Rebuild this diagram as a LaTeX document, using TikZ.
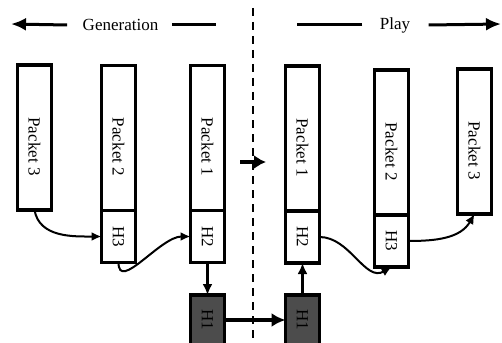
\documentclass[tikz,border=0pt]{standalone}
\usepackage{fontspec}
\setmainfont{Liberation Serif}
\usetikzlibrary{arrows.meta,positioning}

\tikzset{
    pkt/.style={draw,line width=3.5pt,outer sep=0pt,inner sep=0pt,minimum width=34pt,minimum height=145pt},
    hdr/.style={draw,line width=3.5pt,outer sep=0pt,inner sep=0pt,minimum width=34pt,minimum height=52pt},
    darkbox/.style={draw,line width=3.5pt,outer sep=0pt,inner sep=0pt,fill=black!70,minimum width=34pt,minimum height=50pt},
    lbl/.style={rotate=-90,font=\fontsize{17}{17}\selectfont},
    plbl/.style={lbl,xshift=9pt},
    hop/.style={line width=2pt,-{Latex[length=10pt,width=9pt]}},
    link/.style={line width=2.5pt,-{Latex[length=11pt,width=10pt]}},
    biglink/.style={line width=4pt,-{Latex[length=14pt,width=14pt]}},
}

\begin{document}
\begin{tikzpicture}[x=1pt,y=-1pt]
    \useasboundingbox (0,0) rectangle (502,342);
    % titles
    \node[font=\fontsize{17}{17}\selectfont] (gen) at (120.5,25) {Generation};
    \node[font=\fontsize{17}{17}\selectfont] (play) at (395,25) {Play};
    \coordinate (genend) at (11,24);
    \coordinate (playend) at (501,24);
    \draw[line width=3pt,-{Latex[length=15pt,width=13pt]}] ([xshift=-12pt]gen.west) -- (genend);
    \draw[line width=3pt] ([xshift=10pt]gen.east) -- ++(44,0);
    \draw[line width=3pt] ([xshift=-14pt]play.west) -- ++(-65,0);
    \draw[line width=3pt,-{Latex[length=15pt,width=13pt]}] ([xshift=15pt]play.east) -- (playend);
    % boundary
    \draw[line width=2.5pt,dash pattern=on 8pt off 6pt] (253,8) -- (253,342);
    \coordinate (crossa) at (240,162);
    \coordinate (crossb) at (266,162);
    \draw[line width=4.5pt,-{Latex[length=12pt,width=14pt]}] (crossa) -- (crossb);
    % generation side
    \node[pkt,label={[plbl]center:Packet 3}] (gp3) at (34.5,137.5) {};
    \node[pkt,label={[plbl]center:Packet 2}] (gp2) at (118.5,138) {};
    \node[hdr,below=0pt of gp2,label={[lbl]center:H3}] (gh3) {};
    \node[pkt,label={[plbl]center:Packet 1}] (gp1) at (207.5,138) {};
    \node[hdr,below=0pt of gp1,label={[lbl]center:H2}] (gh2) {};
    \node[darkbox,label={[lbl]center:H1}] (gx) at (207.5,320) {};
    % play side
    \node[pkt,label={[plbl]center:Packet 1}] (pp1) at (302.5,138.5) {};
    \node[hdr,below=0pt of pp1,label={[lbl]center:H2}] (ph2) {};
    \node[pkt,label={[plbl]center:Packet 2}] (pp2) at (391.5,142.5) {};
    \node[hdr,below=0pt of pp2,label={[lbl]center:H3}] (ph3) {};
    \node[pkt,label={[plbl]center:Packet 3}] (pp3) at (474.5,141.5) {};
    \node[darkbox,label={[lbl]center:H1}] (px) at (302.5,320) {};
    % connectors
    \draw[hop] (gp3.south) to[out=-80,in=180] (gh3.west);
    \draw[hop] (gh3.south) to[out=-90,in=180] (gh2.west);
    \draw[hop] (ph2.east) to[out=0,in=-150] (ph3.south);
    \draw[hop] (ph3.east) to[out=0,in=-120] (pp3.south);
    \draw[link] (gh2.south) -- (gx.north);
    \draw[biglink] (gx.east) -- (px.west);
    \draw[link] (px.north) -- (ph2.south);
\end{tikzpicture}
\end{document}
